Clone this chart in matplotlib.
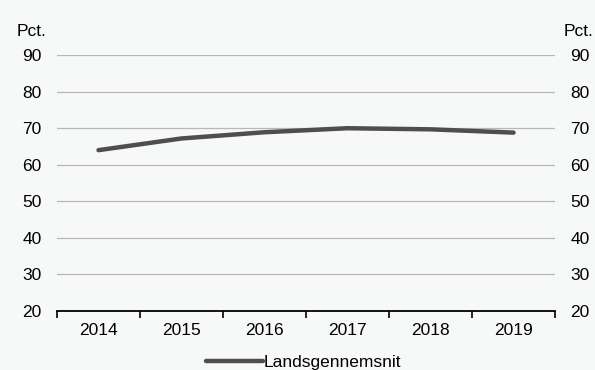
import numpy as np
import matplotlib.pyplot as plt
from matplotlib.ticker import FixedLocator

plt.rcParams['font.family'] = ['Liberation Sans', 'DejaVu Sans']

years = ['2014', '2015', '2016', '2017', '2018', '2019']
values = [64.0, 67.2, 68.9, 70.0, 69.7, 68.8]
yticks = [20, 30, 40, 50, 60, 70, 80, 90]

bg = '#f7f8f8'
fs = 12.5
fig = plt.figure(figsize=(5.95, 3.70), dpi=100, facecolor=bg)
ax = fig.add_axes([0.0958, 0.1595, 0.837, 0.6915], facecolor=bg)

x = np.arange(len(years)) + 0.5
ax.plot(x, values, color='#4d4d52', lw=3.2, solid_capstyle='round',
        label='Landsgennemsnit')

ax.set_xlim(0, len(years))
ax.set_ylim(20, 90)
ax.set_yticks(yticks)
ax.set_xticks(x)
ax.set_xticklabels(years)
ax.xaxis.set_minor_locator(FixedLocator(np.arange(len(years) + 1)))
ax.tick_params(axis='x', which='major', length=0, pad=9, labelsize=fs)
ax.tick_params(axis='x', which='minor', length=5, width=1.2, color='black', direction='out')
ax.tick_params(axis='y', length=0, labelsize=fs, labelleft=True, labelright=True, pad=11)

ax.grid(axis='y', color='#b8b8b8', lw=0.9)
ax.set_axisbelow(True)
for s in ['top', 'left', 'right']:
    ax.spines[s].set_visible(False)
ax.spines['bottom'].set_linewidth(1.3)
ax.spines['bottom'].set_zorder(5)

fig.text(0.028, 0.915, 'Pct.', fontsize=fs, ha='left', va='center')
fig.text(0.997, 0.915, 'Pct.', fontsize=fs, ha='right', va='center')

fig.legend(loc='center', bbox_to_anchor=(0.51, 0.02), frameon=False, fontsize=fs,
           handlelength=3.3, handletextpad=0.05, borderpad=0)

fig.savefig('out.png', dpi=100, facecolor=bg)
